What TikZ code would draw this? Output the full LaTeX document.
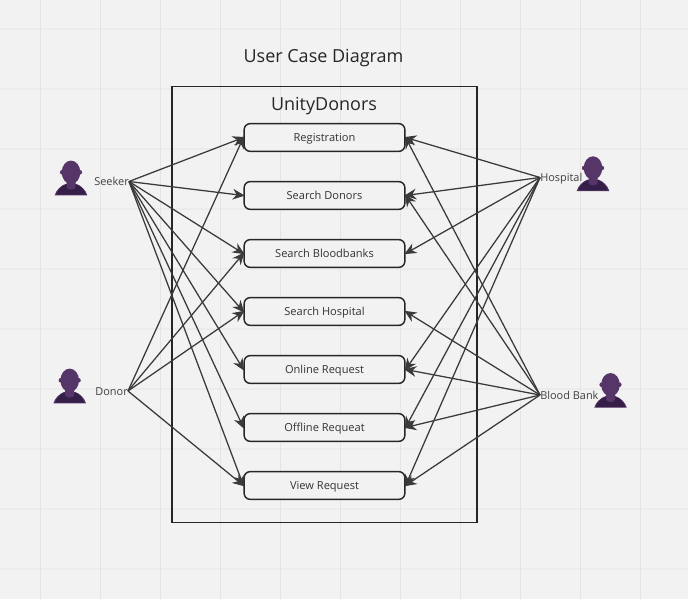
\documentclass[tikz,border=0pt]{standalone}
\usepackage{fontspec}
\setmainfont{Open Sans}
\usetikzlibrary{arrows.meta}
\definecolor{paper}{HTML}{F2F2F2}
\definecolor{gridv}{HTML}{E4E4E4}
\definecolor{gridh}{HTML}{ECECEC}
\definecolor{inkline}{HTML}{3A3A3A}
\definecolor{headpurple}{HTML}{563668}
\definecolor{bodypurple}{HTML}{351E48}
\tikzset{
  usecase/.style={draw=black!85,line width=1.1pt,rounded corners=4.5pt,minimum width=120.5pt,minimum height=20.8pt,inner sep=0pt,text height=7pt,text depth=1pt,font=\fontsize{8.3pt}{10pt}\selectfont,text=black!80},
  actorlabel/.style={inner sep=0pt,text height=7pt,text depth=1pt,font=\fontsize{8.2pt}{10pt}\selectfont,text=black!75},
  assoc/.style={draw=inkline,line width=0.95pt,-{Stealth[length=9pt,width=8pt]},shorten >=-1pt},
  person/.pic={
    \fill[headpurple] (-16.3,0) .. controls (-15,5) and (-10,10) .. (-5,11.5) -- (5,11.5) .. controls (10,10) and (15,5) .. (16.3,0) -- cycle;
    \fill[bodypurple] (-14.8,0.7) .. controls (-13.5,5) and (-9.5,9.5) .. (-5,11) -- (5,11) .. controls (9.5,9.5) and (13.5,5) .. (14.8,0.7) -- cycle;
    \fill[headpurple] (-4.5,14) -- (4.5,14) -- (4.5,8) .. controls (3.5,5) and (-3.5,5) .. (-4.5,8) -- cycle;
    \fill[headpurple] (0,23) ellipse (9.3 and 11.7);
    \fill[headpurple] (-8.7,23) circle (2.4);
    \fill[headpurple] (8.7,23) circle (2.4);
  },
}
\begin{document}
\begin{tikzpicture}[x=0.75pt,y=0.75pt,yscale=-1]
        %Background
        \fill[paper] (0,0) rectangle (688,599);
        \useasboundingbox (0,0) rectangle (688,599);
        %Grid Lines
        \draw[gridh,line width=0.9pt] (0,29) -- (688,29) (0,89) -- (688,89) (0,149) -- (688,149) (0,209) -- (688,209) (0,269) -- (688,269) (0,329) -- (688,329) (0,389) -- (688,389) (0,449) -- (688,449) (0,509) -- (688,509) (0,569) -- (688,569) ;
        \draw[gridv,line width=0.75pt] (40.5,0) -- (40.5,599) (100.5,0) -- (100.5,599) (160.5,0) -- (160.5,599) (220.5,0) -- (220.5,599) (280.5,0) -- (280.5,599) (340.5,0) -- (340.5,599) (400.5,0) -- (400.5,599) (460.5,0) -- (460.5,599) (520.5,0) -- (520.5,599) (580.5,0) -- (580.5,599) (640.5,0) -- (640.5,599) ;
        %System Boundary
        \draw[black!85,line width=1.1pt] (172,86.5) rectangle (477,522.5) ;

        % Text Node
        \node (title) at (323.5,58) [inner sep=0pt,font=\fontsize{13.5pt}{16pt}\selectfont,text=black!85] {User Case Diagram};
        % Text Node
        \node (system) at (324,106) [inner sep=0pt,font=\fontsize{13.5pt}{16pt}\selectfont,text=black!85] {UnityDonors};

        %Use Cases
        \node (registration) at (324.5,137.5) [usecase,fill=paper] {Registration};
        \node (donors) at (324.5,195.5) [usecase,fill=paper] {Search Donors};
        \node (bloodbanks) at (324.5,253.5) [usecase,fill=paper] {Search Bloodbanks};
        \node (hospitals) at (324.5,311.5) [usecase,fill=paper] {Search Hospital};
        \node (online) at (324.5,369.5) [usecase,fill=paper] {Online Request};
        \node (offline) at (324.5,427.5) [usecase,fill=paper] {Offline Requeat};
        \node (viewreq) at (324.5,485.5) [usecase,fill=paper] {View Request};

        %Actors
        \pic at (71,195.3) {person};
        \pic at (593,191) {person};
        \pic at (69.7,403.3) {person};
        \pic at (610.5,407.7) {person};
        % Text Node
        \node (seeker) at (129,181.5) [actorlabel,anchor=east] {Seeker};
        % Text Node
        \node (donor) at (128,391) [actorlabel,anchor=east] {Donor};
        % Text Node
        \node (hospital) at (540,177.5) [actorlabel,anchor=west] {Hospital};
        % Text Node
        \node (bloodbank) at (540,395) [actorlabel,anchor=west] {Blood Bank};

        %Seeker Lines
        \draw[assoc] (seeker.east) -- (registration.west) ;
        \draw[assoc] (seeker.east) -- (donors.west) ;
        \draw[assoc] (seeker.east) -- (bloodbanks.west) ;
        \draw[assoc] (seeker.east) -- (hospitals.west) ;
        \draw[assoc] (seeker.east) -- (online.west) ;
        \draw[assoc] (seeker.east) -- (offline.west) ;
        \draw[assoc] (seeker.east) -- (viewreq.west) ;
        %Donor Lines
        \draw[assoc] (donor.east) -- (registration.west) ;
        \draw[assoc] (donor.east) -- (bloodbanks.west) ;
        \draw[assoc] (donor.east) -- (hospitals.west) ;
        \draw[assoc] (donor.east) -- (viewreq.west) ;
        %Hospital Lines
        \draw[assoc] (hospital.west) -- (registration.east) ;
        \draw[assoc] (hospital.west) -- (donors.east) ;
        \draw[assoc] (hospital.west) -- (bloodbanks.east) ;
        \draw[assoc] (hospital.west) -- (online.east) ;
        \draw[assoc] (hospital.west) -- (offline.east) ;
        \draw[assoc] (hospital.west) -- (viewreq.east) ;
        %Blood Bank Lines
        \draw[assoc] (bloodbank.west) -- (registration.east) ;
        \draw[assoc] (bloodbank.west) -- (donors.east) ;
        \draw[assoc] (bloodbank.west) -- (hospitals.east) ;
        \draw[assoc] (bloodbank.west) -- (online.east) ;
        \draw[assoc] (bloodbank.west) -- (offline.east) ;
        \draw[assoc] (bloodbank.west) -- (viewreq.east) ;
\end{tikzpicture}
\end{document}
